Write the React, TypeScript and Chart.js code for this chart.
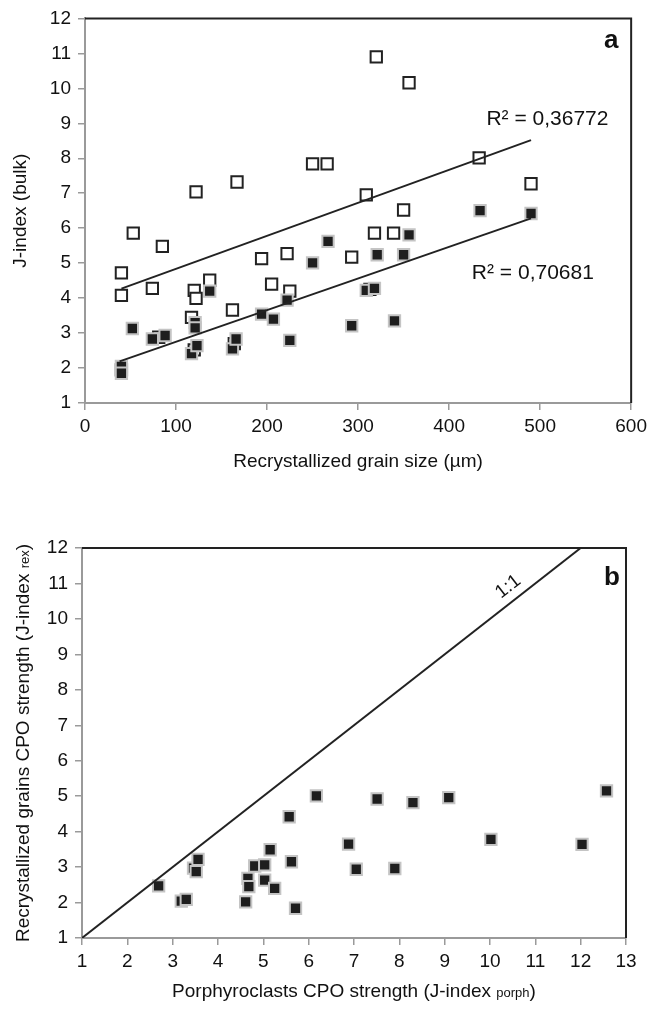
import React, { useEffect, useRef } from "react";
import { Chart, registerables } from "chart.js";

Chart.register(...registerables);

// ---------- Panel a data ----------
const openGrainSize = [40, 40, 74, 137, 120, 122, 117, 162, 194, 205, 81, 120, 164, 40, 250, 266, 309, 350, 318, 339, 222, 293, 225, 313, 320, 356, 433, 490, 122, 167, 53, 85];
const openJBulk = [4.72, 4.08, 4.28, 4.51, 4.22, 3.99, 3.45, 3.66, 5.13, 4.4, 2.88, 2.52, 2.7, 1.95, 7.84, 7.84, 6.95, 6.52, 5.86, 5.86, 5.27, 5.17, 4.2, 4.25, 10.9, 10.16, 8.01, 7.27, 7.04, 7.32, 5.86, 5.48];
const filledGrainSize = [434, 490, 356, 267, 321, 350, 250, 222, 309, 318, 194, 207, 137, 52, 74, 88, 121, 121, 117, 123, 162, 166, 225, 293, 340, 40, 40];
const filledJBulk = [6.5, 6.42, 5.81, 5.62, 5.24, 5.24, 5.01, 3.94, 4.22, 4.28, 3.54, 3.4, 4.2, 3.13, 2.83, 2.93, 3.3, 3.15, 2.41, 2.64, 2.55, 2.83, 2.79, 3.21, 3.35, 2.05, 1.85];
const trendOpenX = [40, 490];
const trendOpenY = [4.27, 8.52];
const trendFilledX = [38, 490];
const trendFilledY = [2.19, 6.28];
const r2Open = "R² = 0,36772";
const r2Filled = "R² = 0,70681";

// ---------- Panel b data ----------
const porphJ = [2.69, 3.19, 3.3, 3.46, 3.52, 3.56, 4.61, 4.66, 4.68, 4.81, 5.03, 5.03, 5.15, 5.25, 5.57, 5.62, 5.71, 6.17, 6.88, 7.05, 7.51, 7.9, 8.3, 9.09, 10.02, 12.03, 12.57];
const rexJ = [2.47, 2.04, 2.09, 2.97, 2.87, 3.22, 2.02, 2.68, 2.45, 3.03, 3.06, 2.63, 3.49, 2.4, 4.42, 3.15, 1.84, 5.01, 3.65, 2.94, 4.92, 2.96, 4.82, 4.96, 3.78, 3.64, 5.15];
const oneToOneX = [1, 12];
const oneToOneY = [1, 12];

const FONT = "'Liberation Sans', Arial, Helvetica, sans-serif";
const TEXT = "#111";
const AXIS = "#9a9a9a";

type Part = { text: string; size: number };

function drawParts(ctx: CanvasRenderingContext2D, parts: Part[], cx: number, cy: number, rotate: boolean, mainSize: number) {
  ctx.save();
  ctx.translate(cx, cy);
  if (rotate) ctx.rotate(-Math.PI / 2);
  ctx.textBaseline = "alphabetic";
  ctx.textAlign = "left";
  ctx.fillStyle = TEXT;
  let total = 0;
  const widths = parts.map((p) => {
    ctx.font = `${p.size}px ${FONT}`;
    const w = ctx.measureText(p.text).width;
    total += w;
    return w;
  });
  let x = -total / 2;
  const base = mainSize * 0.36;
  parts.forEach((p, i) => {
    ctx.font = `${p.size}px ${FONT}`;
    ctx.fillText(p.text, x, base);
    x += widths[i];
  });
  ctx.restore();
}

function pts(xs: number[], ys: number[]) {
  return xs.map((x, i) => ({ x, y: ys[i] }));
}

const TICK_SIZE = 19;
const TITLE_SIZE = 19;
const SUB_SIZE = 13;
const R2_SIZE = 21;

function makeScales(xmin: number, xmax: number, xstep: number, ymin: number, ymax: number, ystep: number, yWidth: number, xHeight: number) {
  const common = {
    type: "linear" as const,
    grid: { drawOnChartArea: false, drawTicks: true, tickLength: 7, color: AXIS, lineWidth: 1.5 },
    border: { display: true, color: AXIS, width: 2 },
  };
  return {
    x: {
      ...common,
      min: xmin,
      max: xmax,
      ticks: { stepSize: xstep, font: { family: FONT, size: TICK_SIZE }, color: TEXT, padding: 5, maxRotation: 0 },
      afterFit: (s: any) => {
        s.height = xHeight;
      },
    },
    y: {
      ...common,
      min: ymin,
      max: ymax,
      ticks: { stepSize: ystep, font: { family: FONT, size: TICK_SIZE }, color: TEXT, padding: 7 },
      afterFit: (s: any) => {
        s.width = yWidth;
      },
    },
  };
}

function boxBorder(ctx: CanvasRenderingContext2D, a: any) {
  ctx.save();
  ctx.strokeStyle = "#222";
  ctx.lineWidth = 2;
  ctx.beginPath();
  ctx.moveTo(a.left, a.top);
  ctx.lineTo(a.right, a.top);
  ctx.lineTo(a.right, a.bottom);
  ctx.stroke();
  ctx.restore();
}

const openStyle = {
  pointStyle: "rect" as const,
  pointRadius: 8,
  pointBackgroundColor: "#ffffff",
  pointBorderColor: "#222222",
  pointBorderWidth: 2,
  showLine: false,
};
const filledStyle = {
  pointStyle: "rect" as const,
  pointRadius: 8,
  pointBackgroundColor: "#1e1e1e",
  pointBorderColor: "#c4c4c4",
  pointBorderWidth: 2,
  showLine: false,
};
const lineStyle = {
  showLine: true,
  pointRadius: 0,
  borderColor: "#222222",
  borderWidth: 2,
  fill: false,
};

export default function App() {
  const refA = useRef<HTMLCanvasElement>(null);
  const refB = useRef<HTMLCanvasElement>(null);

  useEffect(() => {
    document.body.style.margin = "0";

    const pluginA = {
      id: "panelA",
      afterDraw(chart: any) {
        const ctx = chart.ctx as CanvasRenderingContext2D;
        const a = chart.chartArea;
        const xs = chart.scales.x;
        const ys = chart.scales.y;
        boxBorder(ctx, a);
        drawParts(ctx, [{ text: "Recrystallized grain size (µm)", size: TITLE_SIZE }], (a.left + a.right) / 2, 460, false, TITLE_SIZE);
        drawParts(ctx, [{ text: "J-index (bulk)", size: TITLE_SIZE }], 19, (a.top + a.bottom) / 2, true, TITLE_SIZE);
        ctx.save();
        ctx.fillStyle = TEXT;
        ctx.font = `${R2_SIZE}px ${FONT}`;
        ctx.textBaseline = "middle";
        ctx.textAlign = "left";
        ctx.fillText(r2Open, xs.getPixelForValue(441), ys.getPixelForValue(9.11));
        ctx.fillText(r2Filled, xs.getPixelForValue(425), ys.getPixelForValue(4.71));
        ctx.font = `bold 26px ${FONT}`;
        ctx.textAlign = "center";
        ctx.fillText("a", a.right - 20, a.top + 22);
        ctx.restore();
      },
    };

    const pluginB = {
      id: "panelB",
      afterDraw(chart: any) {
        const ctx = chart.ctx as CanvasRenderingContext2D;
        const a = chart.chartArea;
        const xs = chart.scales.x;
        const ys = chart.scales.y;
        boxBorder(ctx, a);
        drawParts(
          ctx,
          [
            { text: "Porphyroclasts CPO strength (J-index ", size: TITLE_SIZE },
            { text: "porph", size: SUB_SIZE },
            { text: ")", size: TITLE_SIZE },
          ],
          (a.left + a.right) / 2,
          485,
          false,
          TITLE_SIZE
        );
        drawParts(
          ctx,
          [
            { text: "Recrystallized grains CPO strength (J-index ", size: TITLE_SIZE },
            { text: "rex", size: SUB_SIZE },
            { text: ")", size: TITLE_SIZE },
          ],
          22,
          (a.top + a.bottom) / 2,
          true,
          TITLE_SIZE
        );
        ctx.save();
        ctx.fillStyle = TEXT;
        ctx.font = `${TICK_SIZE}px ${FONT}`;
        ctx.textAlign = "center";
        ctx.textBaseline = "middle";
        const lx = xs.getPixelForValue(10.6);
        const ly = ys.getPixelForValue(10.6);
        ctx.translate(lx - 9, ly - 11);
        const ang = Math.atan2(ys.getPixelForValue(12) - ys.getPixelForValue(1), xs.getPixelForValue(12) - xs.getPixelForValue(1));
        ctx.rotate(ang);
        ctx.fillText("1:1", 0, 0);
        ctx.restore();
        ctx.save();
        ctx.fillStyle = TEXT;
        ctx.font = `bold 26px ${FONT}`;
        ctx.textAlign = "center";
        ctx.textBaseline = "middle";
        ctx.fillText("b", a.right - 14, a.top + 30);
        ctx.restore();
      },
    };

    const chartA = new Chart(refA.current!, {
      type: "scatter",
      data: {
        datasets: [
          { label: "trend open", data: pts(trendOpenX, trendOpenY), ...lineStyle, order: 0 },
          { label: "trend filled", data: pts(trendFilledX, trendFilledY), ...lineStyle, order: 0 },
          { label: "filled", data: pts(filledGrainSize, filledJBulk), ...filledStyle, order: 1 },
          { label: "open", data: pts(openGrainSize, openJBulk), ...openStyle, order: 2 },
        ],
      },
      options: {
        responsive: false,
        animation: false,
        layout: { padding: { top: 15, right: 20, left: 0, bottom: 0 } },
        plugins: { legend: { display: false }, tooltip: { enabled: false } },
        scales: makeScales(0, 600, 100, 1, 12, 1, 85, 102) as any,
      },
      plugins: [pluginA],
    });

    const chartB = new Chart(refB.current!, {
      type: "scatter",
      data: {
        datasets: [
          { label: "1:1", data: pts(oneToOneX, oneToOneY), ...lineStyle, order: 0 },
          { label: "samples", data: pts(porphJ, rexJ), ...filledStyle, order: 1 },
        ],
      },
      options: {
        responsive: false,
        animation: false,
        layout: { padding: { top: 43, right: 26, left: 0, bottom: 0 } },
        plugins: { legend: { display: false }, tooltip: { enabled: false } },
        scales: makeScales(1, 13, 1, 1, 12, 1, 82, 76) as any,
      },
      plugins: [pluginB],
    });

    return () => {
      chartA.destroy();
      chartB.destroy();
    };
  }, []);

  return (
    <div style={{ position: "relative", width: 652, height: 1014, background: "#fff" }}>
      <canvas ref={refA} width={652} height={505} style={{ position: "absolute", left: 0, top: 0, width: 652, height: 505 }} />
      <canvas ref={refB} width={652} height={509} style={{ position: "absolute", left: 0, top: 505, width: 652, height: 509 }} />
    </div>
  );
}
